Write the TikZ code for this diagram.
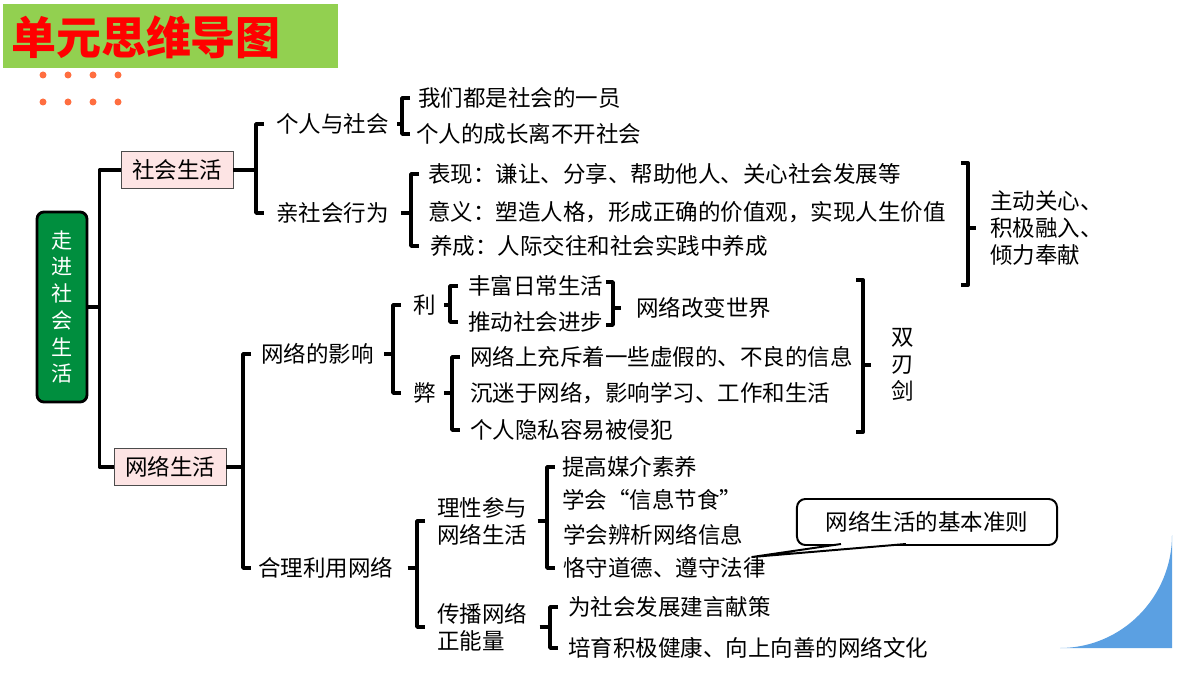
\documentclass[tikz,border=0pt]{standalone}
\usepackage{fontspec}
\setmainfont{Noto Sans CJK SC}
\usepackage{tikz}
\definecolor{titlegreen}{RGB}{146,208,80}
\definecolor{rootgreen}{RGB}{0,142,62}
\definecolor{dotorange}{RGB}{255,110,64}
\definecolor{boxpink}{RGB}{253,228,228}
\definecolor{cornerblue}{RGB}{91,160,226}

\begin{document}
\begin{tikzpicture}[x=0.025cm,y=-0.025cm,
	txt/.style   ={inner sep=0pt,anchor=west,font=\fontsize{16pt}{19.2pt}\selectfont},
	topic/.style ={draw=black!70,fill=boxpink,line width=0.6pt,inner sep=0pt,minimum width=2.8cm,minimum height=0.92cm,font=\fontsize{16pt}{19.2pt}\selectfont},
	root/.style  ={draw,line width=2pt,fill=rootgreen,text=white,rounded corners=5pt,minimum width=1.25cm,minimum height=4.75cm,align=center,font=\fontsize{15pt}{19pt}\selectfont},
	brace/.style ={line width=2.7pt,line join=round}]
	\useasboundingbox (0,0) rectangle (1200,675);

	\node[fill=titlegreen,minimum width=8.375cm,minimum height=1.6cm,inner sep=0pt] (tb) at (170.5,36) {};
	\node[text=red,font=\fontsize{32pt}{36pt}\selectfont\bfseries]              (tt) at (146,37) {单元思维导图};
	\foreach \x in {43,68,93,118}
		\foreach \y in {75,102}
			\fill[dotorange] (\x,\y) circle[radius=3.5];
	\fill[cornerblue] (1172,535) -- (1172,648) -- (1060,648) .. controls (1122,648) and (1172,597) .. (1172,535) -- cycle;

	\node[root]            (zj)  at (62,307)  {走\\进\\社\\会\\生\\活};
	\node[topic]           (sh)  at (177,170) {社会生活};
	\node[topic]           (wl)  at (170,467) {网络生活};
	\node[txt]             (grs) at (276,124) {个人与社会};
	\node[txt]             (qsh) at (276,213) {亲社会行为};
	\node[txt]             (a1)  at (418,98)  {我们都是社会的一员};
	\node[txt]             (a2)  at (416,134) {个人的成长离不开社会};
	\node[txt]             (b1)  at (428,174) {表现：谦让、分享、帮助他人、关心社会发展等};
	\node[txt]             (b2)  at (428,212) {意义：塑造人格，形成正确的价值观，实现人生价值};
	\node[txt]             (b3)  at (430,246) {养成：人际交往和社会实践中养成};
	\node[txt,align=left]  (zd)  at (990,228) {主动关心、\\积极融入、\\倾力奉献};
	\node[txt]             (yx)  at (261,354) {网络的影响};
	\node[txt]             (li)  at (413,305) {利};
	\node[txt]             (bi)  at (413,393) {弊};
	\node[txt]             (l1)  at (468,286) {丰富日常生活};
	\node[txt]             (l2)  at (468,322) {推动社会进步};
	\node[txt]             (gb)  at (636,308) {网络改变世界};
	\node[txt]             (d1)  at (470,357) {网络上充斥着一些虚假的、不良的信息};
	\node[txt]             (d2)  at (470,393) {沉迷于网络，影响学习、工作和生活};
	\node[txt]             (d3)  at (470,430) {个人隐私容易被侵犯};
	\node[txt,anchor=center,align=center] (srj) at (903,365) {双\\刃\\剑};
	\node[txt]             (hl)  at (258,568) {合理利用网络};
	\node[txt,align=left]  (lx)  at (437,521) {理性参与\\网络生活};
	\node[txt,align=left]  (cb)  at (437,627) {传播网络\\正能量};
	\node[txt]             (r1)  at (562,467) {提高媒介素养};
	\node[txt]             (r2)  at (562,500) {学会“信息节食”};
	\node[txt]             (r3)  at (563,535) {学会辨析网络信息};
	\node[txt]             (r4)  at (563,568) {恪守道德、遵守法律};
	\node[txt]             (c1)  at (568,607) {为社会发展建言献策};
	\node[txt]             (c2)  at (568,648) {培育积极健康、向上向善的网络文化};

	\draw[brace] (sh.west) -- ++(-21,0) coordinate (k0) |- (wl.west);
	\draw[brace] (zj.east) -- (zj.east -| k0);
	\draw[brace] ([shift={(-12,0)}]grs.west) -- ++(-8,0) coordinate (k1) |- ([shift={(-12,0)}]qsh.west);
	\draw[brace] (sh.east) -- (sh.east -| k1);
	\draw[brace] ([shift={(-8,0)}]a1.west) -- ++(-8,0) coordinate (k2) |- ([shift={(-6,0)}]a2.west);
	\draw[brace] ([shift={(8,0)}]grs.east) -- (grs.east -| k2);
	\draw[brace] ([shift={(-9,0)}]b1.west) -- ++(-8,0) coordinate (k3) |- ([shift={(-11,0)}]b3.west);
	\draw[brace] ([shift={(12,0)}]qsh.east) -- (qsh.east -| k3);
	\draw[brace] ([shift={(-10,0)}]yx.west) -- ++(-8,0) coordinate (k4) |- ([shift={(-7,0)}]hl.west);
	\draw[brace] (wl.east) -- (wl.east -| k4);
	\draw[brace] ([shift={(-12,0)}]li.west) -- ++(-8,0) coordinate (k5) |- ([shift={(-12,0)}]bi.west);
	\draw[brace] ([shift={(10,0)}]yx.east) -- (yx.east -| k5);
	\draw[brace] ([shift={(-10,0)}]l1.west) -- ++(-8,0) coordinate (k6) |- ([shift={(-10,0)}]l2.west);
	\draw[brace] ([shift={(8,0)}]li.east) -- (li.east -| k6);
	\draw[brace] ([shift={(-10,0)}]d1.west) -- ++(-8,0) coordinate (k7) |- ([shift={(-10,0)}]d3.west);
	\draw[brace] ([shift={(8,0)}]bi.east) -- (bi.east -| k7);
	\draw[brace] ([shift={(-12,0)}]lx.west) -- ++(-8,0) coordinate (k8) |- ([shift={(-12,0)}]cb.west);
	\draw[brace] ([shift={(14,0)}]hl.east) -- (hl.east -| k8);
	\draw[brace] ([shift={(-7,0)}]r1.west) -- ++(-8,0) coordinate (k9) |- ([shift={(-8,0)}]r4.west);
	\draw[brace] ([shift={(10,0)}]lx.east) -- (lx.east -| k9);
	\draw[brace] ([shift={(-10,0)}]c1.west) -- ++(-8,0) coordinate (k10) |- ([shift={(-10,0)}]c2.west);
	\draw[brace] ([shift={(12,0)}]cb.east) -- (cb.east -| k10);

	\coordinate (m1) at (968,163);
	\coordinate (m2) at (968,285);
	\draw[brace] ([shift={(-7,0)}]m1) -- (m1) -- (m2) -- ++(-7,0);
	\draw[brace] (m1 |- zd.west) -- ++(8,0);
	\coordinate (n1) at (613,282);
	\coordinate (n2) at (613,325);
	\draw[brace] ([shift={(-7,0)}]n1) -- (n1) -- (n2) -- ++(-7,0);
	\draw[brace] (n1 |- gb.west) -- ++(8,0);
	\coordinate (p1) at (863,280);
	\coordinate (p2) at (863,432);
	\draw[brace] ([shift={(-7,0)}]p1) -- (p1) -- (p2) -- ++(-7,0);
	\draw[brace] (p1 |- srj.west) -- ++(8,0);

	\node[draw,line width=1.4pt,rounded corners=6pt,fill=white,minimum width=6.5cm,minimum height=1.15cm,font=\fontsize{16pt}{19.2pt}\selectfont] (zz) at (927,522) {网络生活的基本准则};
	\coordinate (tip) at (752,557);
	\draw[line width=1.4pt,fill=white,line join=round] ([shift={(45,-2)}]zz.south west) -- (tip) -- ([shift={(110,-2)}]zz.south west);
\end{tikzpicture}
\end{document}
